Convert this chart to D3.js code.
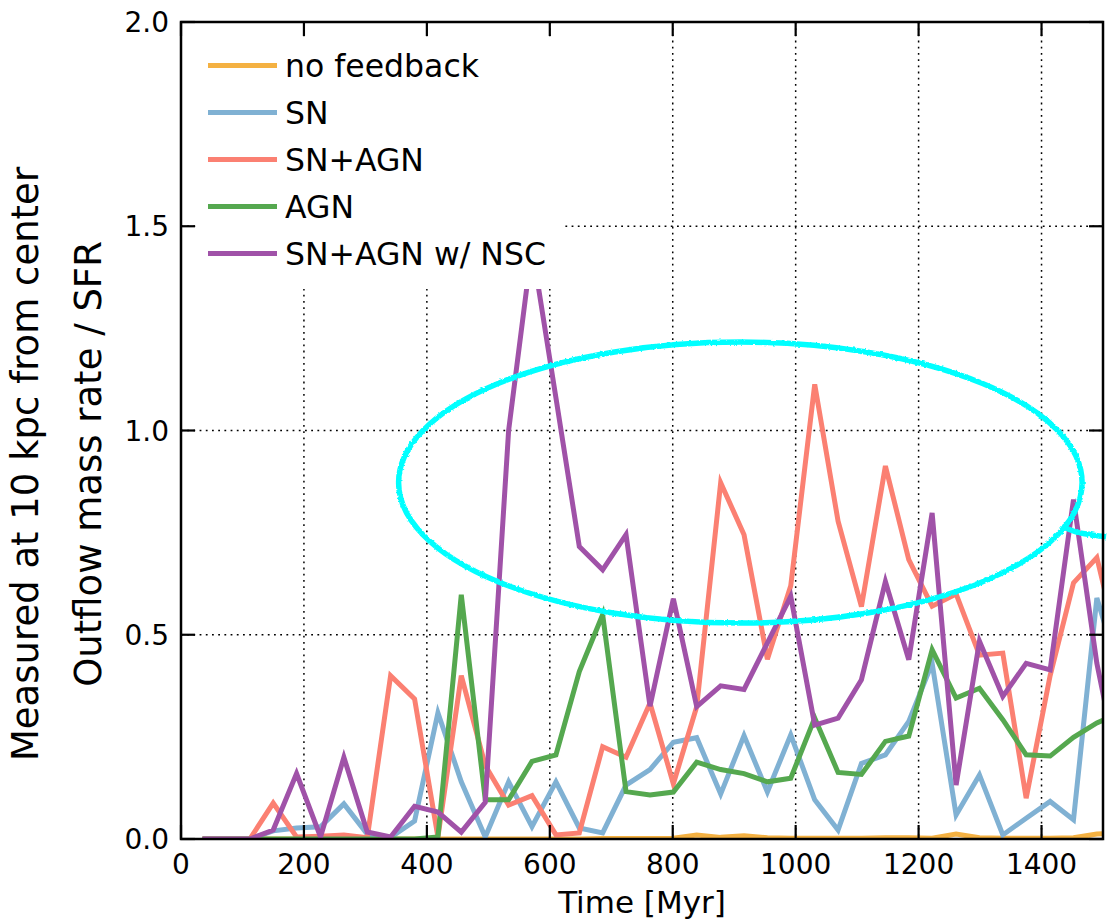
<!DOCTYPE html>
<html>
<head>
<meta charset="utf-8">
<script src="https://cdn.jsdelivr.net/npm/d3@7"></script>
<style>
  html, body { margin: 0; padding: 0; background: #fff; }
  svg { display: block; }
  text { font-family: "DejaVu Sans", sans-serif; fill: #000; }
</style>
</head>
<body>
<svg id="chart" width="1107" height="922"></svg>
<script>
// ---------------- data ----------------
const times = [35, 73, 112, 150, 188, 227, 265, 303, 341, 380, 418, 456, 495, 533, 571, 610, 648, 686, 724, 763,
               801, 839, 878, 916, 954, 992, 1031, 1069, 1107, 1146, 1184, 1222, 1261, 1299, 1337, 1375, 1414, 1452, 1490, 1528];

const noFeedback = [0, 0, 0, 0, 0, 0, 0, 0, 0, 0, 0, 0, 0, 0, 0, 0, 0, 0.001, 0.001, 0.001,
                    0.002, 0.01, 0.004, 0.008, 0.003, 0.002, 0.002, 0.002, 0.002, 0.003, 0.003, 0.002, 0.012, 0.003, 0.002, 0.002, 0.002, 0.003, 0.012, 0.015];
const sn = [0, 0, 0, 0.02, 0.027, 0.03, 0.086, 0.012, 0.004, 0.044, 0.309, 0.14, 0.005, 0.14, 0.03, 0.14, 0.027, 0.015, 0.132, 0.17,
            0.237, 0.248, 0.11, 0.253, 0.115, 0.255, 0.096, 0.022, 0.185, 0.206, 0.288, 0.43, 0.059, 0.157, 0.01, 0.051, 0.092, 0.047, 0.59, 0.4];
const snAgn = [0, 0, 0, 0.088, 0.005, 0.007, 0.01, 0.003, 0.40, 0.343, 0.005, 0.40, 0.18, 0.083, 0.106, 0.01, 0.015, 0.226, 0.20, 0.333,
               0.135, 0.324, 0.872, 0.745, 0.44, 0.62, 1.113, 0.778, 0.569, 0.913, 0.684, 0.57, 0.60, 0.45, 0.455, 0.10, 0.40, 0.627, 0.689, 0.45];
const agn = [0, 0, 0, 0, 0, 0, 0, 0, 0, 0, 0.005, 0.598, 0.096, 0.096, 0.19, 0.206, 0.41, 0.549, 0.116, 0.108,
             0.115, 0.188, 0.17, 0.16, 0.14, 0.149, 0.296, 0.163, 0.158, 0.239, 0.252, 0.463, 0.345, 0.369, 0.292, 0.206, 0.203, 0.249, 0.284, 0.31];
const snAgnNsc = [0, 0, 0, 0.022, 0.16, 0.005, 0.2, 0.017, 0.005, 0.08, 0.066, 0.017, 0.09, 1.0, 1.45, 1.08, 0.716, 0.659, 0.745, 0.325,
                  0.588, 0.324, 0.375, 0.366, 0.48, 0.594, 0.279, 0.296, 0.39, 0.63, 0.439, 0.798, 0.132, 0.484, 0.349, 0.43, 0.414, 0.831, 0.43, 0.15];

const seriesNames = ["no feedback", "SN", "SN+AGN", "AGN", "SN+AGN w/ NSC"];
const seriesColors = ["#f4b142", "#80b1d3", "#fb8072", "#55a84f", "#a052a8"];
const seriesValues = [noFeedback, sn, snAgn, agn, snAgnNsc];

const xTicks = [0, 200, 400, 600, 800, 1000, 1200, 1400];
const yTicks = [0.0, 0.5, 1.0, 1.5, 2.0];
const xLabel = "Time [Myr]";
const yLabelLines = ["Measured at 10 kpc from center", "Outflow mass rate / SFR"];

// hand-drawn annotation ellipse (data units): centre time, centre value, half-width [Myr], half-height
const annotCenter = [910, 0.8725];
const annotRadius = [556, 0.344];
const tailTime  = [1433, 1456, 1480, 1505];
const tailValue = [0.765, 0.752, 0.745, 0.740];

// ---------------- layout ----------------
const W = 1107, H = 922;
const margin = { left: 181, top: 22, right: 4, bottom: 83 };
const pw = W - margin.left - margin.right;   // 922
const ph = H - margin.top - margin.bottom;   // 817

const svg = d3.select("#chart");
const x = d3.scaleLinear().domain([0, 1500]).range([margin.left, margin.left + pw]);
const y = d3.scaleLinear().domain([0, 2]).range([margin.top + ph, margin.top]);

const defs = svg.append("defs");
defs.append("clipPath").attr("id", "plotclip")
  .append("rect").attr("x", margin.left).attr("y", margin.top).attr("width", pw).attr("height", ph);
const rough = defs.append("filter").attr("id", "rough")
  .attr("x", "-5%").attr("y", "-10%").attr("width", "110%").attr("height", "120%");
rough.append("feTurbulence").attr("type", "fractalNoise").attr("baseFrequency", 0.45)
  .attr("numOctaves", 1).attr("seed", 3).attr("result", "noise");
rough.append("feDisplacementMap").attr("in", "SourceGraphic").attr("in2", "noise")
  .attr("scale", 3).attr("xChannelSelector", "R").attr("yChannelSelector", "G");

// grid
const grid = svg.append("g");
grid.selectAll("line.gx").data(xTicks.filter(d => d > 0)).enter().append("line")
  .attr("x1", d => x(d)).attr("x2", d => x(d))
  .attr("y1", margin.top).attr("y2", margin.top + ph)
  .attr("stroke", "#000").attr("stroke-width", 1.5).attr("stroke-dasharray", "1.8,4.4");
grid.selectAll("line.gy").data(yTicks.filter(d => d > 0 && d < 2)).enter().append("line")
  .attr("y1", d => y(d)).attr("y2", d => y(d))
  .attr("x1", margin.left).attr("x2", margin.left + pw)
  .attr("stroke", "#000").attr("stroke-width", 1.5).attr("stroke-dasharray", "1.8,4.4");

// data lines
const line = d3.line().x(d => x(d[0])).y(d => y(d[1]));
const lines = svg.append("g").attr("clip-path", "url(#plotclip)");
seriesValues.forEach((vals, i) => {
  lines.append("path")
    .datum(times.map((t, j) => [t, vals[j]]))
    .attr("d", line)
    .attr("fill", "none")
    .attr("stroke", seriesColors[i])
    .attr("stroke-width", 5)
    .attr("stroke-linejoin", "miter");
});

// legend (white background, no frame)
const leg = svg.append("g");
leg.append("rect").attr("x", 198).attr("y", 40).attr("width", 366).attr("height", 249).attr("fill", "#fff");
seriesNames.forEach((name, i) => {
  const cy = 65.5 + i * 47;
  leg.append("line").attr("x1", 208).attr("x2", 277).attr("y1", cy).attr("y2", cy)
    .attr("stroke", seriesColors[i]).attr("stroke-width", 5);
  leg.append("text").attr("x", 285).attr("y", cy + 11.5).attr("font-size", 31.5).text(name);
});

// annotation ellipse
const ann = svg.append("g").attr("filter", "url(#rough)");
ann.append("ellipse")
  .attr("cx", x(annotCenter[0])).attr("cy", y(annotCenter[1]))
  .attr("rx", x(annotCenter[0] + annotRadius[0]) - x(annotCenter[0]))
  .attr("ry", y(annotCenter[1]) - y(annotCenter[1] + annotRadius[1]))
  .attr("fill", "none").attr("stroke", "#00ffff").attr("stroke-width", 5.5);
ann.append("path")
  .datum(tailTime.map((t, j) => [t, tailValue[j]]))
  .attr("d", d3.line().x(d => x(d[0])).y(d => y(d[1])).curve(d3.curveCatmullRom))
  .attr("fill", "none").attr("stroke", "#00ffff").attr("stroke-width", 5.5);

// frame
svg.append("rect").attr("x", margin.left).attr("y", margin.top).attr("width", pw).attr("height", ph)
  .attr("fill", "none").attr("stroke", "#000").attr("stroke-width", 2.5);

// ticks (inward, all sides)
const tk = svg.append("g").attr("stroke", "#000").attr("stroke-width", 2.2);
xTicks.forEach(d => {
  tk.append("line").attr("x1", x(d)).attr("x2", x(d)).attr("y1", margin.top + ph).attr("y2", margin.top + ph - 14);
  tk.append("line").attr("x1", x(d)).attr("x2", x(d)).attr("y1", margin.top).attr("y2", margin.top + 14);
});
yTicks.forEach(d => {
  tk.append("line").attr("y1", y(d)).attr("y2", y(d)).attr("x1", margin.left).attr("x2", margin.left + 14);
  tk.append("line").attr("y1", y(d)).attr("y2", y(d)).attr("x1", margin.left + pw).attr("x2", margin.left + pw - 14);
});

// tick labels
svg.append("g").selectAll("text").data(xTicks).enter().append("text")
  .attr("x", d => x(d)).attr("y", margin.top + ph + 35)
  .attr("text-anchor", "middle").attr("font-size", 28)
  .text(d => d3.format("d")(d));
svg.append("g").selectAll("text").data(yTicks).enter().append("text")
  .attr("x", margin.left - 12).attr("y", d => y(d) + 10)
  .attr("text-anchor", "end").attr("font-size", 28)
  .text(d => d3.format(".1f")(d));

// axis labels
svg.append("text").attr("x", margin.left + pw / 2).attr("y", 913)
  .attr("text-anchor", "middle").attr("font-size", 31).text(xLabel);
const yl = svg.append("text").attr("transform", "translate(0,464) rotate(-90)")
  .attr("text-anchor", "middle").attr("font-size", 37);
yl.append("tspan").attr("x", 0).attr("y", 38).text(yLabelLines[0]);
yl.append("tspan").attr("x", 0).attr("y", 101).text(yLabelLines[1]);
</script>
</body>
</html>
